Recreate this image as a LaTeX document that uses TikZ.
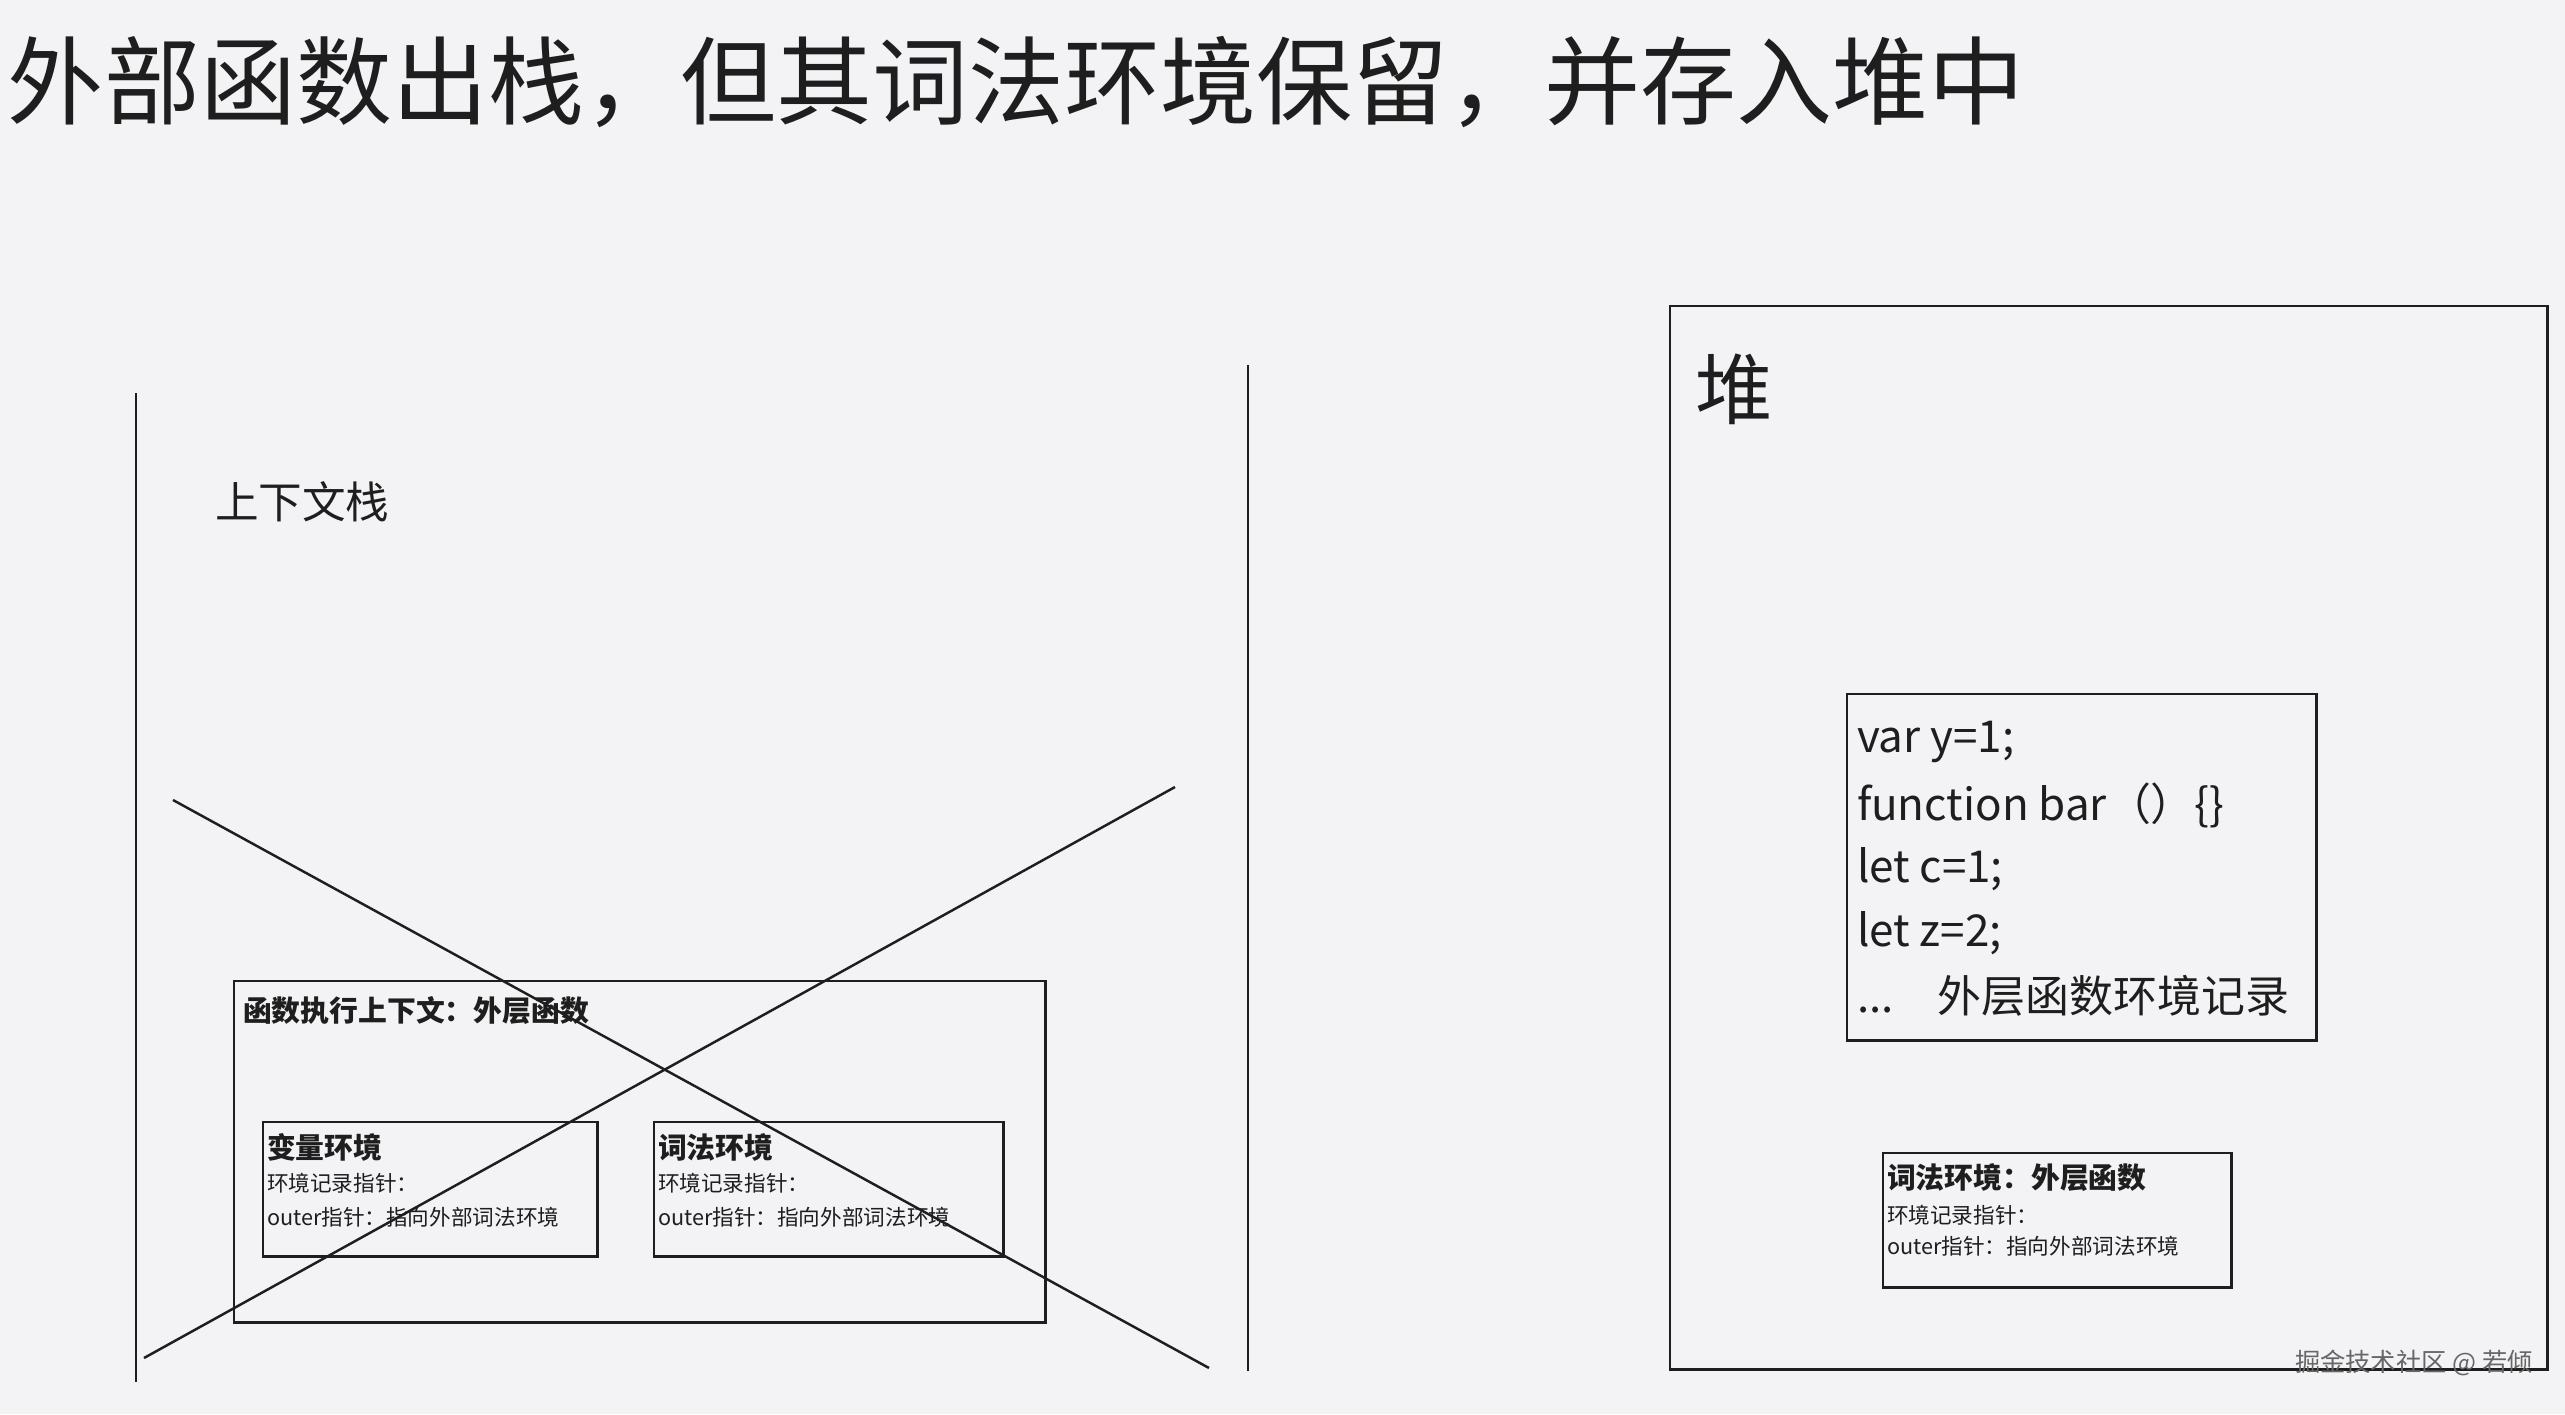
\documentclass[tikz,border=0pt]{standalone}
\usepackage{fontspec}
\setmainfont{Noto Sans CJK SC}
\usepackage{xcolor}
\usepackage{tikz}
\usetikzlibrary{
  positioning
}
\definecolor{paper}{RGB}{243,243,245}
\definecolor{ink}{RGB}{30,30,30}

\begin{document}
\begin{tikzpicture}[x=0.01cm, y=-0.01cm,
    every node/.style={inner sep=0pt, outer sep=0pt, text=ink},
    frame/.style={draw=ink, line width=0.8pt, rectangle, anchor=north west},
    wall/.style={draw=ink, line width=0.7pt},
    heading/.style={anchor=west, font=\fontsize{8.2pt}{10pt}\selectfont\bfseries},
    note/.style={anchor=west, font=\fontsize{6.15pt}{7pt}\selectfont},
    codeline/.style={anchor=west, font=\fontsize{12.5pt}{14pt}\selectfont}]
\fill[paper] (0,0) rectangle (2565,1414);
\useasboundingbox (0,0) rectangle (2565,1414);

% title
\node[anchor=west, font=\fontsize{27.3pt}{30pt}\selectfont] (title) at (8,82) {外部函数出栈，但其词法环境保留，并存入堆中};

% context stack
\coordinate (stackTL) at (136,393);
\coordinate (stackBL) at (136,1382);
\coordinate (stackTR) at (1248,365);
\coordinate (stackBR) at (1248,1371);
\draw[wall] (stackTL) -- (stackBL);
\draw[wall] (stackTR) -- (stackBR);
\node[anchor=west, font=\fontsize{12.4pt}{14pt}\selectfont] (stacklabel) at (215,502) {上下文栈};

\node[frame, minimum width=8.11cm, minimum height=3.41cm] (ctx) at (234,981) {};
\node[heading] (ctxtitle) at (243,1011) {函数执行上下文：外层函数};

\node[frame, minimum width=3.34cm, minimum height=1.34cm] (varenv) at (263,1122) {};
\node[heading] (varname) at (267,1147) {变量环境};
\node[note] (varrec) at (267,1183) {环境记录指针：};
\node[note] (varouter) at (267,1217) {outer指针：指向外部词法环境};

\node[frame, minimum width=3.49cm, minimum height=1.34cm] (lexenv) at (654,1122) {};
\node[heading] (lexname) at (658,1147) {词法环境};
\node[note] (lexrec) at (658,1183) {环境记录指针：};
\node[note] (lexouter) at (658,1217) {outer指针：指向外部词法环境};

% popped: crossed out
\coordinate (crossA1) at (173,800);
\coordinate (crossA2) at (1209,1368);
\coordinate (crossB1) at (144,1358);
\coordinate (crossB2) at (1175,787);
\draw[wall] (crossA1) -- (crossA2);
\draw[wall] (crossB1) -- (crossB2);

% heap
\node[frame, minimum width=8.77cm, minimum height=10.63cm] (heap) at (1670,306) {};
\node[anchor=west, font=\fontsize{22pt}{24pt}\selectfont] (heaplabel) at (1695,389) {堆};

\node[frame, minimum width=4.69cm, minimum height=3.46cm] (record) at (1847,694) {};
\node[codeline] (code1) at (1857,742) {var y=1;};
\node[codeline] (code2) at (1857,805) {function bar（）\{\}};
\node[codeline] (code3) at (1857,869) {let c=1;};
\node[codeline] (code4) at (1857,933) {let z=2;};
\node[codeline] (code5) at (1857,996) {...\hspace{0.44cm}外层函数环境记录};

\node[frame, minimum width=3.48cm, minimum height=1.34cm] (keptenv) at (1883,1153) {};
\node[heading] (keptname) at (1887,1178) {词法环境：外层函数};
\node[note] (keptrec) at (1887,1215) {环境记录指针：};
\node[note] (keptouter) at (1887,1246) {outer指针：指向外部词法环境};

\node[anchor=west, text=gray!80!black, font=\fontsize{7.2pt}{8pt}\selectfont] (credit) at (2295,1363) {掘金技术社区 @ 若倾};
\end{tikzpicture}
\end{document}
